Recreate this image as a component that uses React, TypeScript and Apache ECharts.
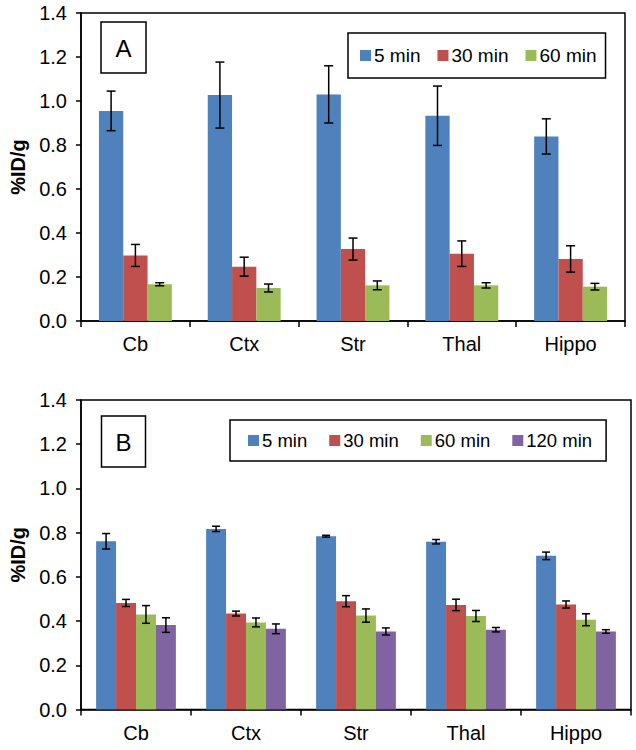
import React, { useEffect, useRef } from "react";
import * as echarts from "echarts";

const categories = ["Cb", "Ctx", "Str", "Thal", "Hippo"];
const yTicks = ["0.0", "0.2", "0.4", "0.6", "0.8", "1.0", "1.2", "1.4"];

// Panel A
const a5 = [0.955, 1.027, 1.03, 0.933, 0.839];
const a5err = [0.09, 0.15, 0.13, 0.135, 0.08];
const a30 = [0.298, 0.247, 0.327, 0.306, 0.282];
const a30err = [0.05, 0.043, 0.05, 0.058, 0.06];
const a60 = [0.167, 0.15, 0.162, 0.162, 0.156];
const a60err = [0.007, 0.018, 0.02, 0.012, 0.015];

// Panel B
const b5 = [0.761, 0.817, 0.784, 0.759, 0.695];
const b5err = [0.035, 0.012, 0.004, 0.01, 0.017];
const b30 = [0.482, 0.434, 0.49, 0.473, 0.475];
const b30err = [0.016, 0.011, 0.025, 0.026, 0.016];
const b60 = [0.43, 0.394, 0.425, 0.423, 0.406];
const b60err = [0.04, 0.02, 0.03, 0.025, 0.027];
const b120 = [0.382, 0.365, 0.353, 0.361, 0.353];
const b120err = [0.033, 0.022, 0.016, 0.01, 0.008];

const seriesNamesA = ["5 min", "30 min", "60 min"];
const seriesNamesB = ["5 min", "30 min", "60 min", "120 min"];

const COLORS = ["#4F81BD", "#C0504D", "#9BBB59", "#8064A2"];
const FONT = "Liberation Sans";

function barSeries(name: string, data: number[], idx: number, axis: number, gap: string) {
  return {
    type: "bar",
    name,
    data,
    xAxisIndex: axis,
    yAxisIndex: axis,
    barGap: "0%",
    barCategoryGap: gap,
    itemStyle: { color: COLORS[idx] },
    z: 2,
  };
}

function errSeries(
  values: number[],
  errs: number[],
  idx: number,
  n: number,
  axis: number,
  gapFrac: number,
  cap: number
) {
  return {
    type: "custom",
    name: "err" + axis + "_" + idx,
    xAxisIndex: axis,
    yAxisIndex: axis,
    z: 5,
    encode: { x: 0, y: 1 },
    data: values.map((v, i) => [i, v, errs[i]]),
    renderItem: (params: any, api: any) => {
      const i = api.value(0);
      const v = api.value(1);
      const e = api.value(2);
      const band = api.size([1, 0])[0];
      const total = band * (1 - gapFrac);
      const bw = total / n;
      const off = -total / 2 + bw * (idx + 0.5);
      const top = api.coord([i, v + e]);
      const bot = api.coord([i, v - e]);
      const x = top[0] + off;
      const st = { stroke: "#000", lineWidth: 1.5 };
      return {
        type: "group",
        children: [
          { type: "line", shape: { x1: x, y1: top[1], x2: x, y2: bot[1] }, style: st },
          { type: "line", shape: { x1: x - cap / 2, y1: top[1], x2: x + cap / 2, y2: top[1] }, style: st },
          { type: "line", shape: { x1: x - cap / 2, y1: bot[1], x2: x + cap / 2, y2: bot[1] }, style: st },
        ],
      };
    },
  };
}

function xAxis(grid: number) {
  return {
    type: "category",
    gridIndex: grid,
    data: categories,
    axisLine: { show: true, lineStyle: { color: "#000", width: 1.5 } },
    axisTick: { show: true, length: 6, lineStyle: { color: "#000", width: 1.5 } },
    axisLabel: { color: "#000", fontSize: 20, fontFamily: FONT, margin: 13 },
  };
}

function yAxis(grid: number) {
  return {
    type: "value",
    gridIndex: grid,
    min: 0,
    max: 1.4,
    interval: 0.2,
    name: "%ID/g",
    nameLocation: "middle",
    nameRotate: 90,
    nameGap: 53,
    nameTextStyle: { color: "#000", fontSize: 20, fontWeight: "bold", fontFamily: FONT },
    axisLine: { show: true, lineStyle: { color: "#000", width: 1.5 } },
    axisTick: { show: true, length: 5, lineStyle: { color: "#000", width: 1.5 } },
    splitLine: { show: false },
    axisLabel: {
      color: "#000",
      fontSize: 20,
      fontFamily: FONT,
      margin: 14,
      formatter: (v: number) => yTicks[Math.round(v / 0.2)] ?? v.toFixed(1),
    },
  };
}

export default function App() {
  const ref = useRef<HTMLDivElement>(null);
  useEffect(() => {
    document.body.style.margin = "0";
    if (!ref.current) return;
    const chart = echarts.init(ref.current, undefined, { renderer: "svg" });
    const option: any = {
      animation: false,
      textStyle: { fontFamily: FONT, color: "#000" },
      grid: [
        { left: 73, right: 11, top: 13, bottom: 429, show: true, borderColor: "#000", borderWidth: 1.5 },
        { left: 73, right: 5, top: 400, bottom: 40.5, show: true, borderColor: "#000", borderWidth: 1.5 },
      ],
      xAxis: [xAxis(0), xAxis(1)],
      yAxis: [yAxis(0), yAxis(1)],
      legend: [
        {
          data: seriesNamesA,
          left: 348,
          top: 33,
          orient: "horizontal",
          icon: "rect",
          itemWidth: 11,
          itemHeight: 11,
          itemGap: 17,
          padding: [13, 9, 13, 12],
          borderColor: "#000",
          borderWidth: 1.5,
          backgroundColor: "#fff",
          textStyle: { color: "#000", fontSize: 19, fontFamily: FONT, padding: [0, 0, 0, -2] },
          selectedMode: false,
        },
        {
          data: seriesNamesB,
          left: 230,
          top: 420,
          orient: "horizontal",
          icon: "rect",
          itemWidth: 11,
          itemHeight: 11,
          itemGap: 22,
          padding: [11, 14, 11, 18],
          borderColor: "#000",
          borderWidth: 1.5,
          backgroundColor: "#fff",
          textStyle: { color: "#000", fontSize: 18.5, fontFamily: FONT, padding: [0, 0, 0, -2] },
          selectedMode: false,
        },
      ],
      graphic: [
        { type: "rect", shape: { x: 101, y: 22, width: 45, height: 51 }, style: { fill: "#fff", stroke: "#000", lineWidth: 1.5 }, z: 10 },
        { type: "text", x: 123.5, y: 48, style: { text: "A", fontSize: 24, fontFamily: FONT, fill: "#000", align: "center", verticalAlign: "middle" }, z: 11 },
        { type: "rect", shape: { x: 101.5, y: 416, width: 44, height: 51 }, style: { fill: "#fff", stroke: "#000", lineWidth: 1.5 }, z: 10 },
        { type: "text", x: 123.5, y: 442, style: { text: "B", fontSize: 24, fontFamily: FONT, fill: "#000", align: "center", verticalAlign: "middle" }, z: 11 },
      ],
      series: [
        barSeries(seriesNamesA[0], a5, 0, 0, "33%"),
        barSeries(seriesNamesA[1], a30, 1, 0, "33%"),
        barSeries(seriesNamesA[2], a60, 2, 0, "33%"),
        barSeries(seriesNamesB[0], b5, 0, 1, "27.5%"),
        barSeries(seriesNamesB[1], b30, 1, 1, "27.5%"),
        barSeries(seriesNamesB[2], b60, 2, 1, "27.5%"),
        barSeries(seriesNamesB[3], b120, 3, 1, "27.5%"),
        errSeries(a5, a5err, 0, 3, 0, 0.33, 9),
        errSeries(a30, a30err, 1, 3, 0, 0.33, 9),
        errSeries(a60, a60err, 2, 3, 0, 0.33, 9),
        errSeries(b5, b5err, 0, 4, 1, 0.275, 8),
        errSeries(b30, b30err, 1, 4, 1, 0.275, 8),
        errSeries(b60, b60err, 2, 4, 1, 0.275, 8),
        errSeries(b120, b120err, 3, 4, 1, 0.275, 8),
      ],
    };
    chart.setOption(option);
    return () => chart.dispose();
  }, []);
  return (
    <div
      ref={ref}
      style={{ position: "fixed", left: 0, top: 0, width: 636, height: 750, background: "#fff" }}
    />
  );
}
